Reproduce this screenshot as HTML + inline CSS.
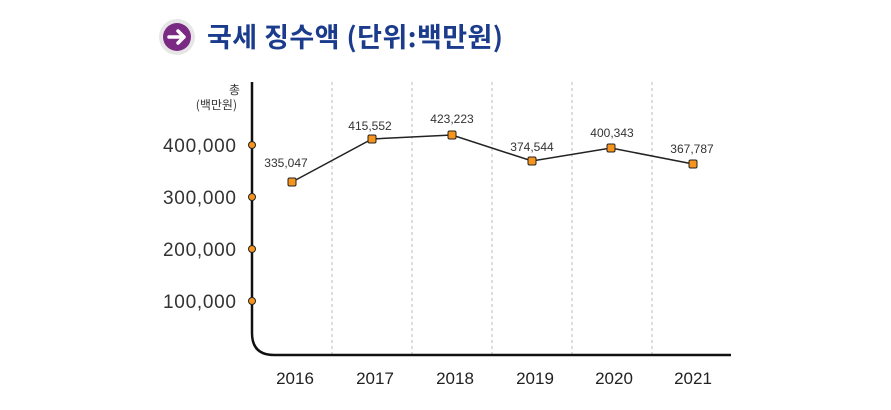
<!DOCTYPE html>
<html><head><meta charset="utf-8"><style>
body{margin:0;background:#fff;}
svg{display:block;}
text{font-family:"Liberation Sans","Noto Sans CJK KR",sans-serif;}
</style></head><body>
<svg width="891" height="410" viewBox="0 0 891 410">
<circle cx="177" cy="37" r="18" fill="#e6e6e6"/>
<circle cx="177" cy="37" r="14" fill="#7b2a84"/>
<path d="M169 37 H184 M178 31 L184 37 L178 43" stroke="#fff" stroke-width="3.5" fill="none" stroke-linecap="round" stroke-linejoin="round"/>
<text x="207" y="47" font-size="27" font-weight="bold" fill="#1b3b8c" textLength="296" style="font-family:'Noto Sans CJK KR',sans-serif">국세 징수액 (단위:백만원)</text>
<g stroke="#bbb" stroke-width="1" stroke-dasharray="3,3">
<line x1="332" y1="82" x2="332" y2="355"/><line x1="412" y1="82" x2="412" y2="355"/>
<line x1="492" y1="82" x2="492" y2="355"/><line x1="572" y1="82" x2="572" y2="355"/>
<line x1="652" y1="82" x2="652" y2="355"/>
</g>
<path d="M252 82 V333 Q252 355 274 355 H731" stroke="#111" stroke-width="2.5" fill="none"/>
<text x="240" y="94" font-size="12" text-anchor="end" fill="#333" style="font-family:'Noto Sans CJK KR',sans-serif">총</text>
<text x="237" y="109" font-size="12" text-anchor="end" fill="#333" style="font-family:'Noto Sans CJK KR',sans-serif">(백만원)</text>
<g font-size="19" fill="#333" text-anchor="end">
<text x="236" y="152" textLength="73">400,000</text><text x="236" y="204" textLength="73">300,000</text>
<text x="236" y="256" textLength="73">200,000</text><text x="236" y="308" textLength="73">100,000</text>
</g>
<g fill="#f7941d" stroke="#222" stroke-width="1">
<circle cx="252" cy="145" r="3.5"/><circle cx="252" cy="197" r="3.5"/>
<circle cx="252" cy="249" r="3.5"/><circle cx="252" cy="301" r="3.5"/>
</g>
<polyline points="292,182 372,139 452,135 532,161 611,148 693,164" stroke="#222" stroke-width="1.5" fill="none"/>
<g fill="#f7941d" stroke="#222" stroke-width="1">
<rect x="288" y="178" width="8" height="8" rx="1.5"/><rect x="368" y="135" width="8" height="8" rx="1.5"/>
<rect x="448" y="131" width="8" height="8" rx="1.5"/><rect x="528" y="157" width="8" height="8" rx="1.5"/>
<rect x="607" y="144" width="8" height="8" rx="1.5"/><rect x="689" y="160" width="8" height="8" rx="1.5"/>
</g>
<g font-size="12" fill="#333" text-anchor="middle">
<text x="286" y="167">335,047</text><text x="370" y="130">415,552</text>
<text x="452" y="123">423,223</text><text x="532" y="151">374,544</text>
<text x="612" y="137">400,343</text><text x="692" y="153">367,787</text>
</g>
<g font-size="17" fill="#222" text-anchor="middle">
<text x="295" y="384">2016</text><text x="375" y="384">2017</text>
<text x="455" y="384">2018</text><text x="535" y="384">2019</text>
<text x="614" y="384">2020</text><text x="693" y="384">2021</text>
</g>
</svg>
</body></html>
